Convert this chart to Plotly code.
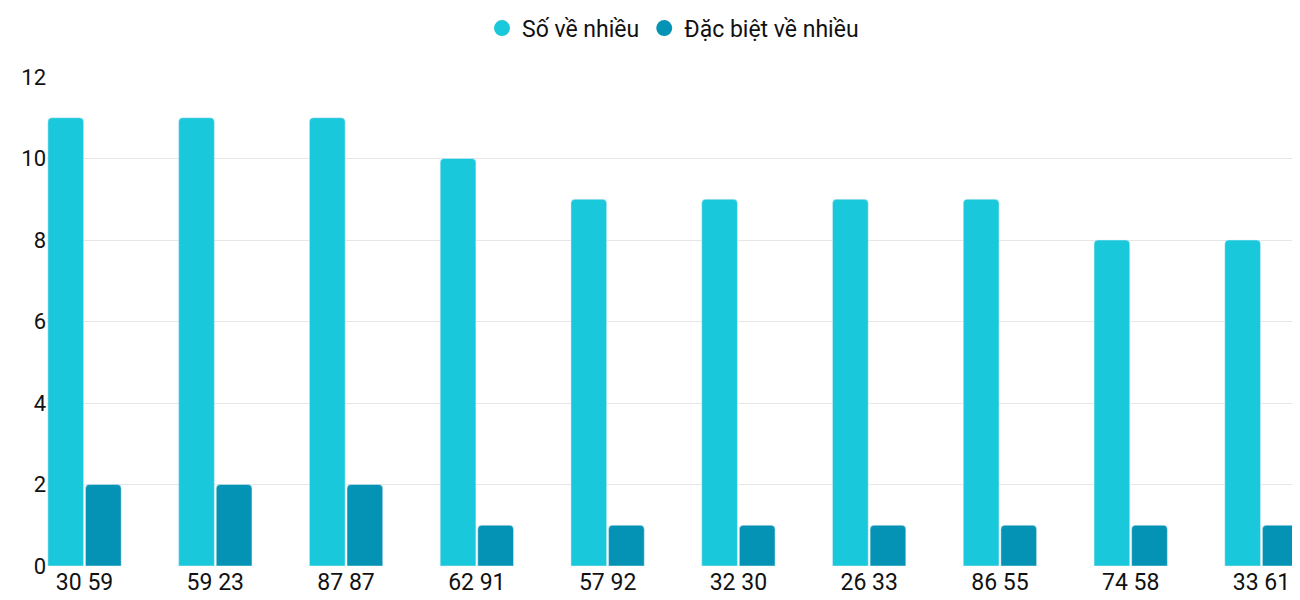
import plotly.graph_objects as go

categories = ["30 59", "59 23", "87 87", "62 91", "57 92", "32 30", "26 33", "86 55", "74 58", "33 61"]
so_ve_nhieu = [11, 11, 11, 10, 9, 9, 9, 9, 8, 8]
dac_biet = [2, 2, 2, 1, 1, 1, 1, 1, 1, 1]
names = ["Số về nhiều", "Đặc biệt về nhiều"]
colors = ["#1AC8DB", "#0593B5"]

fig = go.Figure()
for vals, nm, c in zip([so_ve_nhieu, dac_biet], names, colors):
    fig.add_bar(x=categories, y=vals, name=nm, showlegend=False,
                marker=dict(color=c, cornerradius=4))
for nm, c in zip(names, colors):
    fig.add_scatter(x=[None], y=[None], mode="markers", name=nm,
                    marker=dict(color=c, size=26, symbol="circle"))

fig.update_layout(
    width=1292, height=592,
    margin=dict(l=39, r=1, t=69, b=34, autoexpand=False),
    paper_bgcolor="white", plot_bgcolor="white",
    barmode="group", bargap=0.425, bargroupgap=0.05,
    font=dict(family="Roboto", size=20, color="#111"),
    legend=dict(orientation="h", x=0.5, xanchor="center", y=1.1, yanchor="middle",
                font=dict(size=23), itemsizing="trace"),
    xaxis=dict(type="category", range=[-0.287, 9.287], showgrid=False,
               tickfont=dict(size=23), ticks="", showline=False),
    yaxis=dict(range=[0, 12], dtick=2, gridcolor="#e6e6e6", zeroline=False,
               tickfont=dict(size=22), ticks=""),
)
fig.write_html("out.html")
